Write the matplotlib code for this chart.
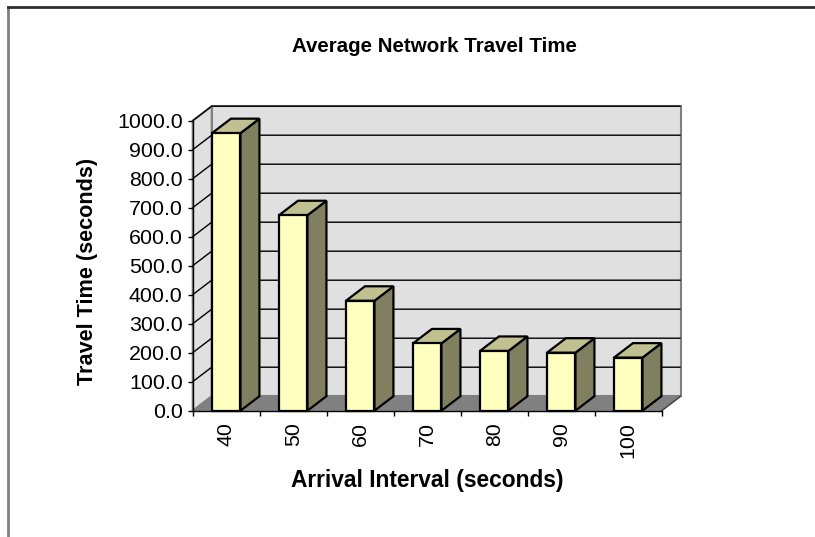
import matplotlib
matplotlib.use("Agg")
import matplotlib.pyplot as plt
from matplotlib.patches import Polygon
from matplotlib.lines import Line2D

# Data
categories = ["40", "50", "60", "70", "80", "90", "100"]
travel_time = [957.0, 674.0, 379.0, 232.0, 206.0, 200.0, 183.0]
y_ticks = [0, 100, 200, 300, 400, 500, 600, 700, 800, 900, 1000]

title = "Average Network Travel Time"
x_label = "Arrival Interval (seconds)"
y_label = "Travel Time (seconds)"

plt.rcParams['font.family'] = ['Liberation Sans', 'DejaVu Sans']

W, H = 815, 537
fig = plt.figure(figsize=(W / 100, H / 100), dpi=100)
fig.patch.set_facecolor("white")

ax = fig.add_axes([192.7 / W, 1 - 410.7 / H, 469.0 / W, 290.0 / H])
n = len(categories)
x0, x1 = -0.5, n - 0.5
y0, y1 = 0, 1000
ax.set_xlim(x0, x1)
ax.set_ylim(y0, y1)
ax.patch.set_visible(False)

# depth offset of the 3D box, converted from pixels to data units
dpx, dpy = 19.0, 14.5
dx = dpx * (x1 - x0) / 469.0
dy = dpy * (y1 - y0) / 290.0

wall_col = "#E0E0E0"
floor_col = "#808080"
edge_gray = "#808080"

# back wall
ax.add_patch(Polygon([(x0 + dx, y0 + dy), (x1 + dx, y0 + dy), (x1 + dx, y1 + dy), (x0 + dx, y1 + dy)],
                     closed=True, facecolor=wall_col, edgecolor=edge_gray, lw=1.5,
                     clip_on=False, zorder=0))
# left wall
ax.add_patch(Polygon([(x0, y0), (x0, y1), (x0 + dx, y1 + dy), (x0 + dx, y0 + dy)],
                     closed=True, facecolor=wall_col, edgecolor=edge_gray, lw=1.5,
                     clip_on=False, zorder=0))
# gridlines on both walls
for t in y_ticks[1:]:
    ax.plot([x0, x0 + dx, x1 + dx], [t, t + dy, t + dy], color="black", lw=1.0,
            clip_on=False, zorder=1, solid_capstyle="butt")
# floor
ax.add_patch(Polygon([(x0, y0), (x1, y0), (x1 + dx, y0 + dy), (x0 + dx, y0 + dy)],
                     closed=True, facecolor=floor_col, edgecolor=floor_col, lw=0.8,
                     clip_on=False, zorder=2))
ax.plot([x1, x1 + dx], [y0, y0 + dy], color="#404040", lw=1.0, clip_on=False, zorder=2)

# bars: front face drawn as regular bars, side and top as offset faces
bw = 0.425
xs = list(range(n))
ax.bar(xs, travel_time, width=bw, color="#FFFFC0", edgecolor="black", linewidth=1.6,
       zorder=6, clip_on=False)
for xi, v in zip(xs, travel_time):
    l, r = xi - bw / 2, xi + bw / 2
    ax.add_patch(Polygon([(r, 0), (r, v), (r + dx, v + dy), (r + dx, dy)], closed=True,
                         facecolor="#808060", edgecolor="black", lw=1.6, clip_on=False,
                         zorder=5, joinstyle="miter"))
    ax.add_patch(Polygon([(l, v), (r, v), (r + dx, v + dy), (l + dx, v + dy)], closed=True,
                         facecolor="#C0C090", edgecolor="black", lw=1.6, clip_on=False,
                         zorder=5, joinstyle="miter"))

# axes and ticks
for s in ("top", "right"):
    ax.spines[s].set_visible(False)
for s in ("left", "bottom"):
    ax.spines[s].set_color("black")
    ax.spines[s].set_linewidth(1.0)
    ax.spines[s].set_zorder(7)

ax.set_yticks(y_ticks)
ax.set_yticklabels([f"{t:.1f}" for t in y_ticks])
ax.tick_params(axis="y", direction="out", length=3.6, width=1.0, pad=3.6,
               labelsize=15.4, colors="black")
ax.set_xticks(xs)
ax.set_xticklabels(categories, rotation=90)
ax.tick_params(axis="x", which="major", length=0, pad=8, labelsize=15.4)
ax.set_xticks([i - 0.5 for i in range(n + 1)], minor=True)
ax.tick_params(axis="x", which="minor", direction="out", length=3.6, width=1.0)

# text
fig.text(434 / W, 1 - 47 / H, title, ha="center", va="center", fontsize=14.8,
         fontweight="bold")
fig.text(427 / W, 1 - 480 / H, x_label, ha="center", va="center", fontsize=16.4,
         fontweight="bold")
fig.text(87 / W, 1 - 271 / H, y_label, ha="center", va="center", rotation=90,
         fontsize=15.6, fontweight="bold")

# chart area border
fig.add_artist(Line2D([8 / W, 8 / W], [0, 1 - 6.7 / H], transform=fig.transFigure,
                      color="#808080", lw=2.0))
fig.add_artist(Line2D([8 / W, 1], [1 - 6.7 / H, 1 - 6.7 / H], transform=fig.transFigure,
                      color="#303030", lw=2.0))

fig.savefig("out.png", dpi=100)
